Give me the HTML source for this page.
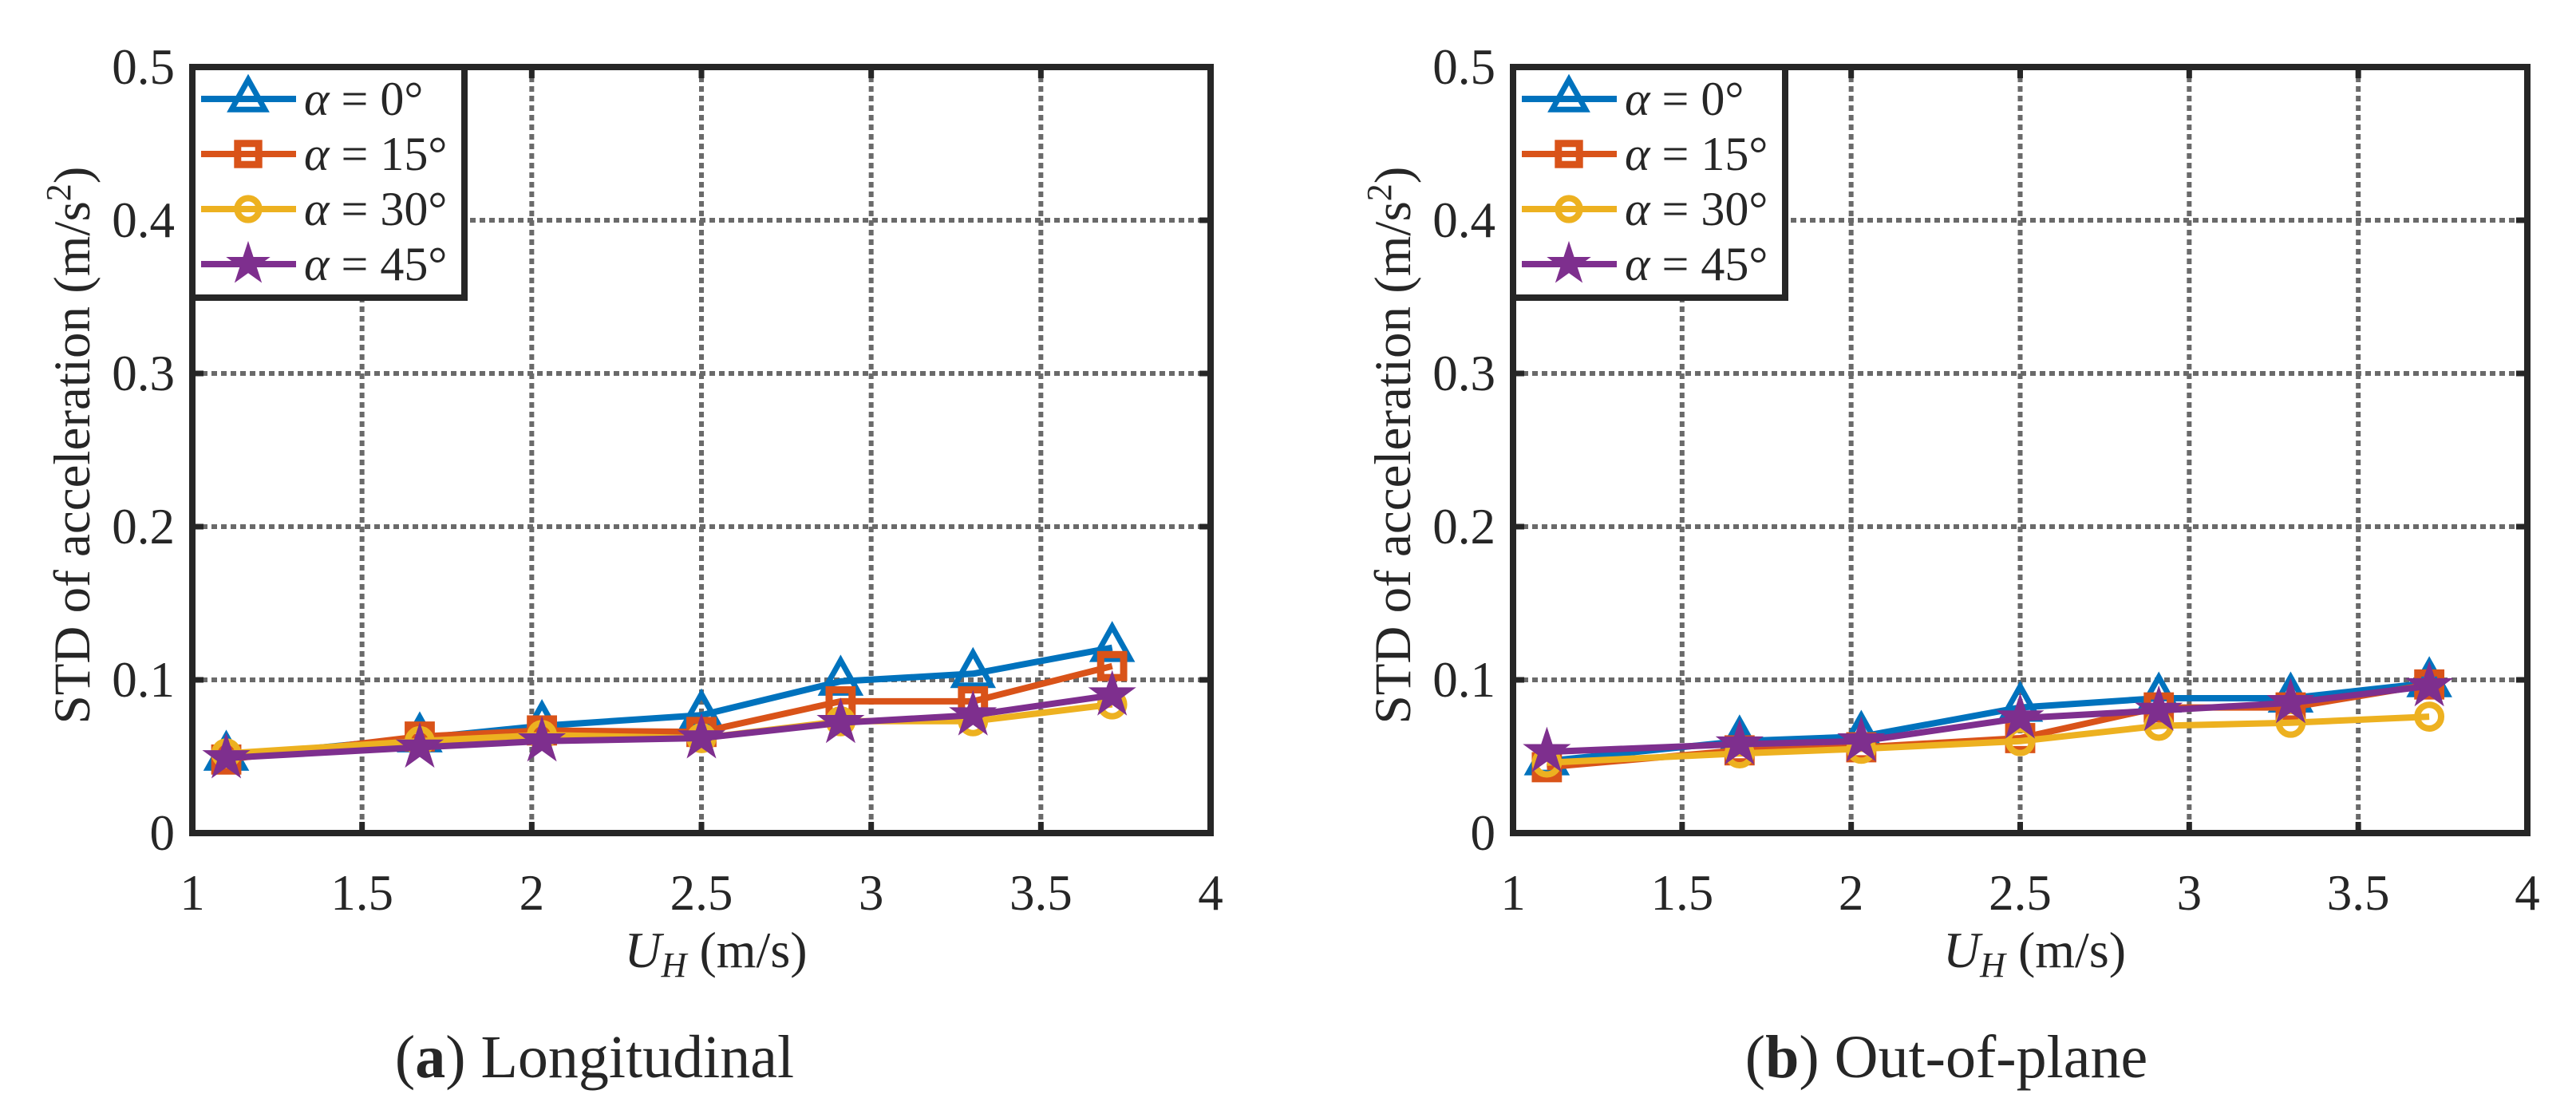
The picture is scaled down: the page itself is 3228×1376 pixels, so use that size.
<!DOCTYPE html>
<html><head><meta charset="utf-8"><style>
html,body{margin:0;padding:0;background:#fff}
svg{display:block}
text{font-family:"Liberation Serif",serif;fill:#262626}
</style></head><body>
<svg id="fig" width="3228" height="1376" viewBox="0 0 3228 1376" xmlns="http://www.w3.org/2000/svg"></svg>
<script>
const xValues=[1.1,1.67,2.03,2.5,2.91,3.3,3.71];
const seriesNames=["α = 0°","α = 15°","α = 30°","α = 45°"];
const longA0=[0.050,0.062,0.070,0.077,0.099,0.104,0.121];
const longA15=[0.048,0.063,0.067,0.066,0.086,0.086,0.109];
const longA30=[0.052,0.060,0.064,0.062,0.073,0.073,0.084];
const longA45=[0.049,0.056,0.060,0.062,0.072,0.077,0.090];
const outA0=[0.047,0.060,0.063,0.082,0.088,0.088,0.098];
const outA15=[0.043,0.054,0.056,0.062,0.082,0.082,0.097];
const outA30=[0.046,0.052,0.055,0.060,0.070,0.072,0.076];
const outA45=[0.053,0.058,0.060,0.075,0.080,0.085,0.096];
const xTicks=[1,1.5,2,2.5,3,3.5,4];
const xTickLabels=["1","1.5","2","2.5","3","3.5","4"];
const yTicks=[0,0.1,0.2,0.3,0.4,0.5];
const yTickLabels=["0","0.1","0.2","0.3","0.4","0.5"];

const NS="http://www.w3.org/2000/svg";
const svg=document.getElementById('fig');
const colors=["#0072BD","#D95319","#EDB120","#7E2F8E"];
const markers=["tri","sq","circ","star"];
function mk(tag,attrs,parent){const e=document.createElementNS(NS,tag);for(const k in attrs)e.setAttribute(k,attrs[k]);(parent||svg).appendChild(e);return e;}
function marker(g,type,cx,cy,col,s){
  let e;
  if(type==="tri"){e=mk('polygon',{points:`${cx},${cy-s*1.1} ${cx-s*0.95},${cy+s*0.6} ${cx+s*0.95},${cy+s*0.6}`,fill:'none',stroke:col,'stroke-width':7},g);}
  else if(type==="sq"){e=mk('rect',{x:cx-s*0.6,y:cy-s*0.6,width:s*1.2,height:s*1.2,fill:'none',stroke:col,'stroke-width':9},g);}
  else if(type==="circ"){e=mk('circle',{cx:cx,cy:cy,r:s*0.62,fill:'none',stroke:col,'stroke-width':8},g);}
  else{let p=[];for(let i=0;i<10;i++){const r=i%2?s*0.48:s*1.25;const a=-Math.PI/2+i*Math.PI/5;p.push((cx+r*Math.cos(a)).toFixed(1)+","+(cy+r*Math.sin(a)).toFixed(1));}
    e=mk('polygon',{points:p.join(' '),fill:col,stroke:col,'stroke-width':1},g);}
  
  
}
function panel(id,L,R,T,B,data,ylabX,caption,bold,capX){
  const g=mk('g',{});
  
  
  const xs=v=>L+(v-1)/3*(R-L);
  const ys=v=>B-v/0.5*(B-T);
  xTicks.forEach((t,i)=>{const x=xs(t);
    if(i>0&&i<xTicks.length-1){const gl=mk('line',{x1:x,y1:T,x2:x,y2:B,stroke:'#6a6a6a','stroke-width':6,'stroke-dasharray':'7 5'},g);
      
      mk('line',{x1:x,y1:B,x2:x,y2:B-14,stroke:'#262626','stroke-width':7},g);
      mk('line',{x1:x,y1:T,x2:x,y2:T+14,stroke:'#262626','stroke-width':7},g);}
    const tl=mk('text',{x:x,y:B+96,'font-size':63,'text-anchor':'middle'},g);tl.textContent=xTickLabels[i];
    });
  yTicks.forEach((t,i)=>{const y=ys(t);
    if(i>0&&i<yTicks.length-1){const gl=mk('line',{x1:L,y1:y,x2:R,y2:y,stroke:'#6a6a6a','stroke-width':6,'stroke-dasharray':'7 5'},g);
      
      mk('line',{x1:L,y1:y,x2:L+14,y2:y,stroke:'#262626','stroke-width':7},g);
      mk('line',{x1:R,y1:y,x2:R-14,y2:y,stroke:'#262626','stroke-width':7},g);}
    const tl=mk('text',{x:L-22,y:y+21,'font-size':63,'text-anchor':'end'},g);tl.textContent=yTickLabels[i];
    });
  data.forEach((arr,si)=>{
    const sg=mk('g',{},g);
    
    
    const pts=arr.map((v,i)=>xs(xValues[i]).toFixed(1)+","+ys(v).toFixed(1)).join(' ');
    const pl=mk('polyline',{points:pts,fill:'none',stroke:colors[si],'stroke-width':8,'stroke-linejoin':'round'},sg);
    
    arr.forEach((v,i)=>marker(sg,markers[si],xs(xValues[i]),ys(v),colors[si],24));
  });
  const box=mk('rect',{x:L,y:T,width:R-L,height:B-T,fill:'none',stroke:'#262626','stroke-width':8},g);
  
  const lg=mk('g',{},g);
  
  mk('rect',{x:L,y:T,width:341,height:289,fill:'#fff',stroke:'#262626','stroke-width':8},lg);
  seriesNames.forEach((n,i)=>{const y=T+40+i*69;
    const e=mk('g',{},lg);
    mk('line',{x1:L+11,y1:y,x2:L+130,y2:y,stroke:colors[i],'stroke-width':8},e);
    marker(e,markers[i],L+70,y,colors[i],22);
    const t=mk('text',{x:L+140,y:y+20,'font-size':60,fill:'#000'},e);
    t.innerHTML='<tspan font-style="italic">α</tspan> = '+n.split('= ')[1];
  });
  const cy=(T+B)/2-6;
  const yl=mk('text',{x:ylabX,y:cy,'font-size':65,'text-anchor':'middle',transform:`rotate(-90 ${ylabX} ${cy})`},g);
  yl.innerHTML='STD of acceleration (m/s<tspan baseline-shift="super" font-size="44">2</tspan>)';
  
  const xl=mk('text',{x:(L+R)/2+18,y:B+168,'font-size':64,'text-anchor':'middle'},g);
  xl.innerHTML='<tspan font-style="italic">U</tspan><tspan font-style="italic" font-size="44" dy="12">H</tspan><tspan dy="-12"> (m/s)</tspan>';
  
  const cp=mk('text',{x:capX,y:1350,'font-size':76,'text-anchor':'middle',fill:'#000'},g);
  cp.innerHTML='(<tspan font-weight="bold">'+bold+'</tspan>) '+caption;
  
}
panel('panel-longitudinal',241,1517,84,1044,[longA0,longA15,longA30,longA45],112,'Longitudinal','a',745);
panel('panel-out-of-plane',1896,3167,84,1044,[outA0,outA15,outA30,outA45],1767,'Out-of-plane','b',2439);
</script>
</body></html>
